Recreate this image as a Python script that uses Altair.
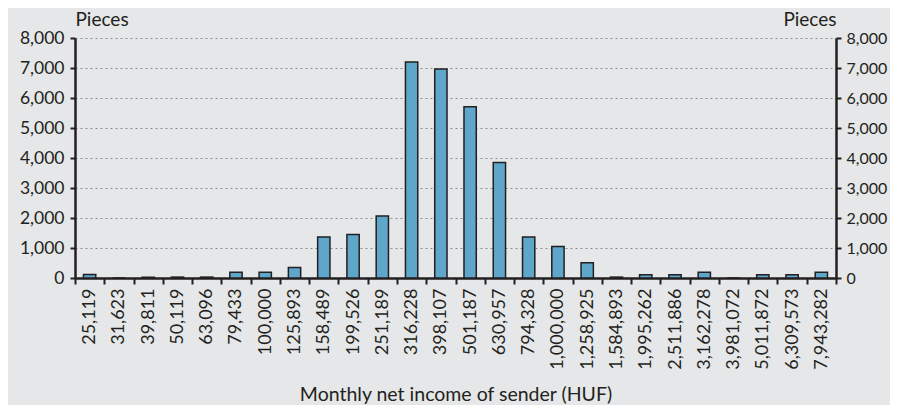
import altair as alt
import pandas as pd

categories = ["25,119", "31,623", "39,811", "50,119", "63,096", "79,433", "100,000",
              "125,893", "158,489", "199,526", "251,189", "316,228", "398,107",
              "501,187", "630,957", "794,328", "1,000,000", "1,258,925", "1,584,893",
              "1,995,262", "2,511,886", "3,162,278", "3,981,072", "5,011,872",
              "6,309,573", "7,943,282"]
values = [120, 0, 25, 30, 30, 190, 190, 350, 1370, 1450, 2070, 7200, 6970,
          5710, 3850, 1370, 1050, 510, 30, 110, 110, 190, 0, 110, 110, 190]
y_ticks = [0, 1000, 2000, 3000, 4000, 5000, 6000, 7000, 8000]

df = pd.DataFrame({"income": categories, "pieces": values})

FONT = "Lato"
INK = "#231f20"
BAR = "#5ea7cb"
BG = "#e6e7e8"

x_enc = alt.X(
    "income:N", sort=categories,
    scale=alt.Scale(paddingInner=0, paddingOuter=0),
    axis=alt.Axis(
        title="Monthly net income of sender (HUF)", labelAngle=270,
        labelAlign="right", labelBaseline="middle", labelPadding=4,
        tickBand="extent", tickSize=6, tickWidth=2, tickColor=INK,
        domainColor=INK, domainWidth=2.5, labelColor=INK, labelFont=FONT,
        labelFontSize=18, titleFont=FONT, titleFontSize=19.5, titleColor=INK,
        titleFontWeight="normal", titleY=116, titleBaseline="middle",
        labelOverlap=False,
    ),
)

y_scale = alt.Scale(domain=[0, 8000], nice=False)


def y_axis(orient, align, size, pad):
    return alt.Axis(
        orient=orient, values=y_ticks, format=",d", title="Pieces",
        titleAngle=0, titleAlign=align, titleX=0, titleY=-19,
        titleBaseline="middle", titleFont=FONT, titleFontSize=19,
        titleFontWeight="normal", titleColor=INK,
        labelFont=FONT, labelFontSize=size, labelColor=INK, labelPadding=pad,
        tickSize=5, tickWidth=2, tickColor=INK, domainColor=INK, domainWidth=2.5,
        grid=(orient == "left"), gridDash=[2, 3], gridColor="#8c8c8c", gridWidth=1,
    )


left = alt.Chart(df).mark_bar(
    width=alt.RelativeBandSize(0.42), fill=BAR, stroke=INK, strokeWidth=1.5
).encode(
    x=x_enc,
    y=alt.Y("pieces:Q", scale=y_scale, axis=y_axis("left", "left", 17.5, 6)),
)

right = alt.Chart(df).mark_bar(
    width=alt.RelativeBandSize(0.42), opacity=0
).encode(
    x=x_enc,
    y=alt.Y("pieces:Q", scale=y_scale, axis=y_axis("right", "right", 16, 5)),
)

chart = alt.layer(left, right).resolve_axis(y="independent").properties(
    width=761, height=240,
    autosize=alt.AutoSizeParams(type="none"),
    padding={"left": 67, "top": 30, "right": 54, "bottom": 127},
    background=BG,
).configure_view(stroke=None)

chart.save("out.html", embed_options={"renderer": "svg", "actions": False})
